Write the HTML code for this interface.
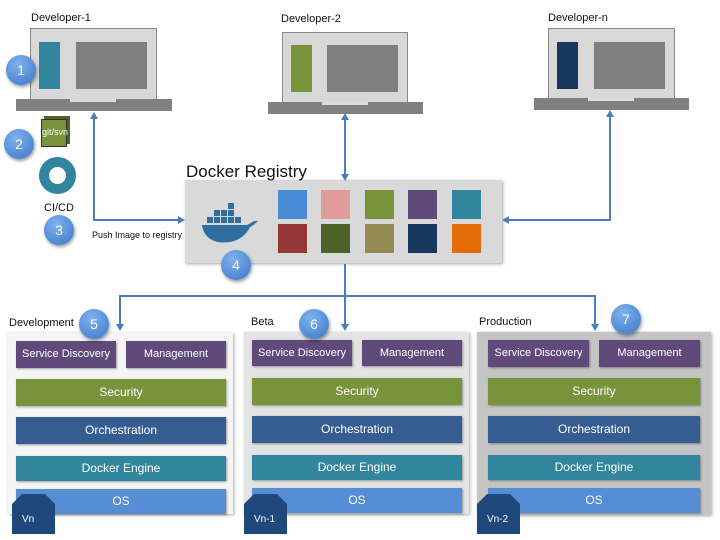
<!DOCTYPE html><html><head><style>
body{margin:0;width:720px;height:540px;background:#fff;position:relative;overflow:hidden;font-family:"Liberation Sans",sans-serif}
div{position:absolute;box-sizing:border-box}
.t{font-size:11px;color:#111;white-space:nowrap}
.scr{background:#d8d8d8;border:1px solid #888}
.base{background:#808080}
.gr{background:#7f7f7f}
.c{width:30px;height:30px;border-radius:50%;background:radial-gradient(circle at 40% 30%,#7fb1ee,#3a76c9);color:#fff;font-size:14px;text-align:center;line-height:30px;box-shadow:1px 2px 3px rgba(0,0,0,.4)}
.p{box-shadow:1px 1px 3px rgba(0,0,0,.35)}
.b{color:#fff;text-align:center;font-size:12px;box-shadow:1px 1px 2px rgba(0,0,0,.35)}
.sd{background:#604a7b;font-size:11px}
.se{background:#77933c}.or{background:#355d91}.de{background:#31859c}.os{background:#558ed5}
.q{width:29px;height:29px}
.v{background:#1f497d;color:#fff;font-size:10px;width:43px;height:40px;clip-path:polygon(10px 0,33px 0,43px 10px,43px 40px,0 40px,0 10px);padding:20px 0 0 10px}
</style></head><body>
<div class="t" style="left:31px;top:12px">Developer-1</div>
<div class="t" style="left:281px;top:13px">Developer-2</div>
<div class="t" style="left:548px;top:12px">Developer-n</div>
<div class="scr" style="left:30px;top:28px;width:127px;height:72px"></div>
<div style="left:39px;top:42px;width:21px;height:47px;background:#31859c"></div>
<div class="gr" style="left:76px;top:42px;width:71px;height:47px"></div>
<div class="base" style="left:16px;top:99px;width:156px;height:12px"></div>
<div style="left:70px;top:99px;width:46px;height:3px;background:#ddd"></div>
<div class="scr" style="left:282px;top:32px;width:126px;height:71px"></div>
<div style="left:291px;top:45px;width:21px;height:47px;background:#77933c"></div>
<div class="gr" style="left:327px;top:45px;width:71px;height:47px"></div>
<div class="base" style="left:268px;top:102px;width:155px;height:12px"></div>
<div style="left:322px;top:102px;width:46px;height:3px;background:#ddd"></div>
<div class="scr" style="left:548px;top:28px;width:127px;height:71px"></div>
<div style="left:557px;top:42px;width:21px;height:47px;background:#17375e"></div>
<div class="gr" style="left:594px;top:42px;width:71px;height:47px"></div>
<div class="base" style="left:534px;top:98px;width:155px;height:12px"></div>
<div style="left:588px;top:98px;width:46px;height:3px;background:#ddd"></div>
<div style="left:44px;top:116px;width:26px;height:28px;background:#4f6228"></div>
<div style="left:41px;top:119px;width:26px;height:28px;background:#77933c;border:1px solid #333;color:#fff;font-size:9px;padding-top:7px">git/svn</div>
<div style="left:39px;top:157px;width:37px;height:37px;border-radius:50%;border:10px solid #31859c"></div>
<div class="t" style="left:44px;top:202px">CI/CD</div>
<div class="p" style="left:185px;top:180px;width:317px;height:83px;background:#d9d9d9"></div>
<div class="t" style="left:92px;top:230px;font-size:9px">Push Image to registry</div>
<div style="left:186px;top:162px;font-size:17px;color:#111;white-space:nowrap">Docker Registry</div>
<svg style="position:absolute;left:200px;top:200px" width="60" height="45" viewBox="0 0 60 45"><g fill="#2f6f9f"><rect x="14" y="10" width="6" height="6"/><rect x="21" y="10" width="6" height="6"/><rect x="28" y="10" width="6" height="6"/><rect x="28" y="3" width="6" height="6"/><rect x="7" y="17" width="6" height="6"/><rect x="14" y="17" width="6" height="6"/><rect x="21" y="17" width="6" height="6"/><rect x="28" y="17" width="6" height="6"/><rect x="35" y="17" width="6" height="6"/><path d="M2 25 H46 C50 25 52 20 58 21 C55 24 52 26 50 27 C44 40 30 44 18 42 C8 40 3 33 2 25Z"/></g></svg>
<div class="q" style="left:278px;top:190px;background:#4a8bd6"></div>
<div class="q" style="left:321px;top:190px;background:#e39a9a"></div>
<div class="q" style="left:365px;top:190px;background:#77933c"></div>
<div class="q" style="left:408px;top:190px;background:#604a7b"></div>
<div class="q" style="left:452px;top:190px;background:#31859c"></div>
<div class="q" style="left:278px;top:224px;background:#953735"></div>
<div class="q" style="left:321px;top:224px;background:#4f6228"></div>
<div class="q" style="left:365px;top:224px;background:#948a54"></div>
<div class="q" style="left:408px;top:224px;background:#17375e"></div>
<div class="q" style="left:452px;top:224px;background:#e36c09"></div>
<svg style="position:absolute;left:0;top:0" width="720" height="540"><g stroke="#4a7ebb" stroke-width="2" fill="none"><path d="M94 118 V220 H180"/><path d="M345 119 V176"/><path d="M610 116 V220 H507"/><path d="M345 264 V296 M120 326 V296 H595 V326 M345 296 V326"/></g><g fill="#4a7ebb"><path d="M94 112 l-4 7 h8z"/><path d="M345 113 l-4 7 h8z"/><path d="M345 181 l-4 -7 h8z"/><path d="M610 110 l-4 7 h8z"/><path d="M185 220 l-7 -4 v8z"/><path d="M502 220 l7 -4 v8z"/><path d="M120 331 l-4 -7 h8z"/><path d="M345 331 l-4 -7 h8z"/><path d="M595 331 l-4 -7 h8z"/></g></svg>
<div class="t" style="left:9px;top:317px">Development</div>
<div class="t" style="left:251px;top:316px">Beta</div>
<div class="t" style="left:479px;top:316px">Production</div>
<div class="p" style="left:8px;top:333px;width:225px;height:181px;background:#f5f5f5"></div>
<div class="b sd" style="left:16px;top:341px;width:100px;height:27px;line-height:27px">Service Discovery</div>
<div class="b sd" style="left:126px;top:341px;width:100px;height:27px;line-height:27px">Management</div>
<div class="b se" style="left:16px;top:379px;width:210px;height:27px;line-height:27px">Security</div>
<div class="b or" style="left:16px;top:417px;width:210px;height:27px;line-height:27px">Orchestration</div>
<div class="b de" style="left:16px;top:456px;width:210px;height:25px;line-height:25px">Docker Engine</div>
<div class="b os" style="left:16px;top:489px;width:210px;height:25px;line-height:25px">OS</div>
<div class="v" style="left:12px;top:494px">Vn</div>
<div class="p" style="left:244px;top:332px;width:225px;height:182px;background:#e3e3e3"></div>
<div class="b sd" style="left:252px;top:340px;width:100px;height:26px;line-height:26px">Service Discovery</div>
<div class="b sd" style="left:362px;top:340px;width:100px;height:26px;line-height:26px">Management</div>
<div class="b se" style="left:252px;top:378px;width:210px;height:27px;line-height:27px">Security</div>
<div class="b or" style="left:252px;top:416px;width:210px;height:27px;line-height:27px">Orchestration</div>
<div class="b de" style="left:252px;top:455px;width:210px;height:25px;line-height:25px">Docker Engine</div>
<div class="b os" style="left:252px;top:488px;width:210px;height:25px;line-height:25px">OS</div>
<div class="v" style="left:244px;top:494px">Vn-1</div>
<div class="p" style="left:477px;top:332px;width:234px;height:183px;background:#c4c4c4"></div>
<div class="b sd" style="left:488px;top:340px;width:101px;height:27px;line-height:27px">Service Discovery</div>
<div class="b sd" style="left:599px;top:340px;width:101px;height:27px;line-height:27px">Management</div>
<div class="b se" style="left:488px;top:378px;width:212px;height:27px;line-height:27px">Security</div>
<div class="b or" style="left:488px;top:416px;width:212px;height:27px;line-height:27px">Orchestration</div>
<div class="b de" style="left:488px;top:455px;width:212px;height:25px;line-height:25px">Docker Engine</div>
<div class="b os" style="left:488px;top:488px;width:212px;height:25px;line-height:25px">OS</div>
<div class="v" style="left:477px;top:494px">Vn-2</div>
<div class="c" style="left:6px;top:55px">1</div>
<div class="c" style="left:4px;top:129px">2</div>
<div class="c" style="left:44px;top:215px">3</div>
<div class="c" style="left:221px;top:250px">4</div>
<div class="c" style="left:79px;top:309px">5</div>
<div class="c" style="left:299px;top:309px">6</div>
<div class="c" style="left:611px;top:304px">7</div>
</body></html>
